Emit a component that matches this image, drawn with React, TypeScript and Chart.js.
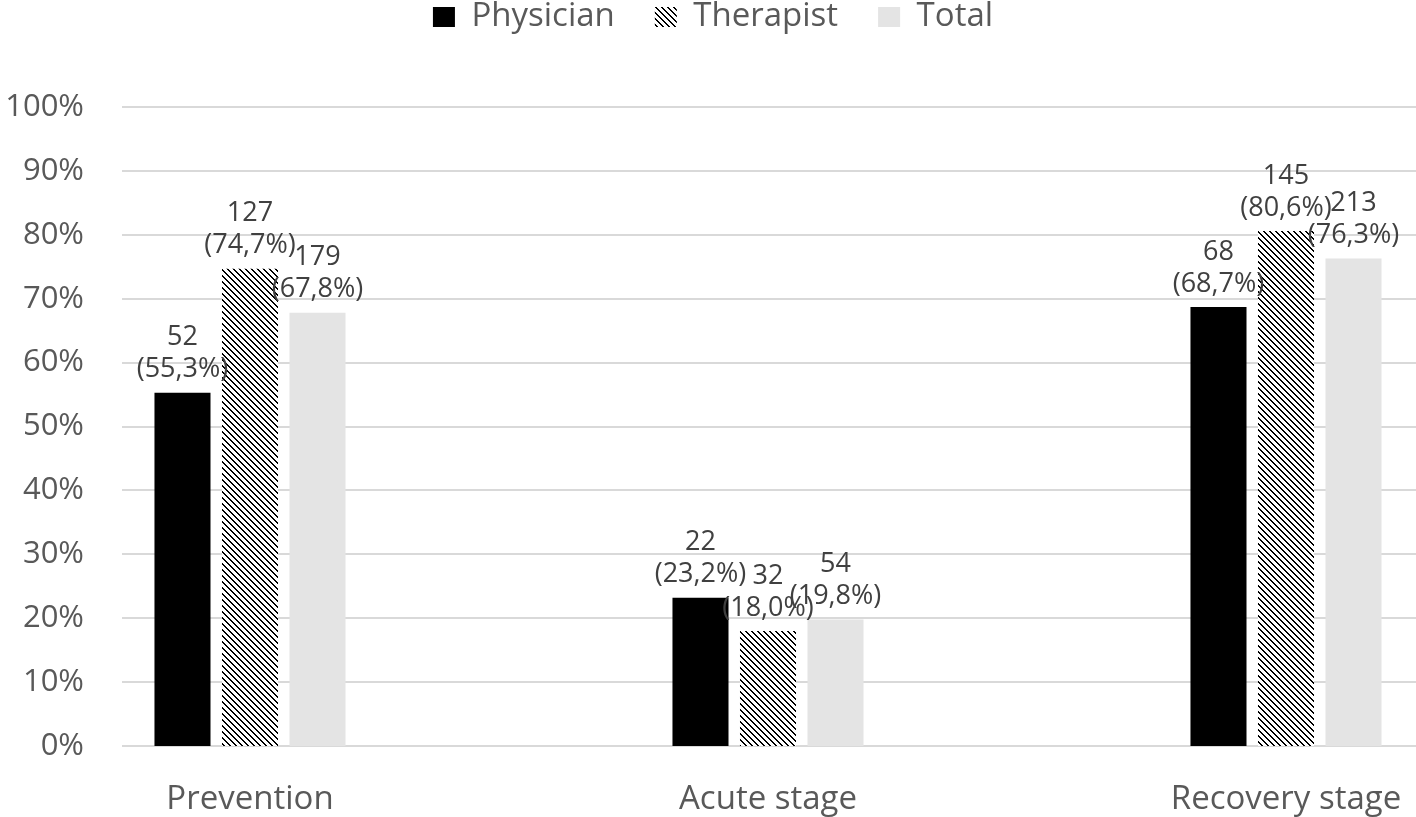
import React, { useEffect, useRef } from "react";
import { Chart, registerables } from "chart.js";

Chart.register(...registerables);

const categories = ["Prevention", "Acute stage", "Recovery stage"];
const seriesNames = ["Physician", "Therapist", "Total"];
const physicianPct = [55.3, 23.2, 68.7];
const therapistPct = [74.7, 18.0, 80.6];
const totalPct = [67.8, 19.8, 76.3];
const physicianN = [52, 22, 68];
const therapistN = [127, 32, 145];
const totalN = [179, 54, 213];
const yTicks = [0, 10, 20, 30, 40, 50, 60, 70, 80, 90, 100];

const FONT = "'Open Sans', 'Noto Sans', sans-serif";
const TEXT = "#595959";
const LABEL = "#404040";
const GRID = "#d9d9d9";
const LEGEND_SIZE = 33;
const LEGEND_PAD = 40;

function makeHatch(): CanvasPattern | string {
  const c = document.createElement("canvas");
  const s = 6;
  c.width = s;
  c.height = s;
  const g = c.getContext("2d");
  if (!g) return "#000";
  g.fillStyle = "#ffffff";
  g.fillRect(0, 0, s, s);
  g.fillStyle = "#000000";
  for (let y = 0; y < s; y++) {
    for (let x = 0; x < s; x++) {
      const d = (((x - y) % s) + s) % s;
      if (d === 0 || d === 1) g.fillRect(x, y, 1, 1);
    }
  }
  const p = g.createPattern(c, "repeat");
  return p || "#000";
}

const gridPlugin = {
  id: "gridFull",
  beforeDatasetsDraw(chart: any) {
    const { ctx, chartArea, scales, width } = chart;
    const y = scales.y;
    ctx.save();
    ctx.strokeStyle = GRID;
    ctx.lineWidth = 2;
    for (const v of yTicks) {
      const py = Math.round(y.getPixelForValue(v));
      ctx.beginPath();
      ctx.moveTo(chartArea.left - 128, py);
      ctx.lineTo(width, py);
      ctx.stroke();
    }
    ctx.restore();
  },
};

const labelPlugin = {
  id: "barLabels",
  afterDatasetsDraw(chart: any) {
    const { ctx } = chart;
    const counts = [physicianN, therapistN, totalN];
    ctx.save();
    ctx.font = `27px ${FONT}`;
    ctx.fillStyle = LABEL;
    ctx.textAlign = "center";
    ctx.textBaseline = "middle";
    chart.data.datasets.forEach((ds: any, di: number) => {
      const meta = chart.getDatasetMeta(di);
      meta.data.forEach((el: any, i: number) => {
        const pct = (ds.data[i] as number).toFixed(1).replace(".", ",");
        ctx.fillText(`(${pct}%)`, el.x, el.y - 23);
        ctx.fillText(String(counts[di][i]), el.x, el.y - 55);
      });
    });
    ctx.restore();
  },
};

const legendShift = {
  id: "legendShift",
  afterLayout(chart: any) {
    const l = chart.legend;
    if (!l) return;
    const target = 17 - LEGEND_PAD - LEGEND_SIZE / 2;
    const dy = l.top - target;
    l.top -= dy;
    l.bottom -= dy;
    l.left += 70;
    l.right += 70;
  },
};

export default function App() {
  const ref = useRef<HTMLCanvasElement | null>(null);
  useEffect(() => {
    if (!ref.current) return;
    const hatch = makeHatch();
    const chart = new Chart(ref.current, {
      type: "bar",
      data: {
        labels: categories,
        datasets: [
          { label: seriesNames[0], data: physicianPct, backgroundColor: "#000000" },
          { label: seriesNames[1], data: therapistPct, backgroundColor: hatch as any },
          { label: seriesNames[2], data: totalPct, backgroundColor: "#e4e4e4" },
        ],
      },
      options: {
        responsive: false,
        animation: false,
        layout: { padding: { top: 24, right: 130, left: 0, bottom: 0 } },
        datasets: {
          bar: {
            categoryPercentage: 0.391,
            barPercentage: 0.83,
            borderWidth: 0,
            clip: false as any,
          },
        },
        plugins: {
          legend: {
            position: "top",
            labels: {
              font: { family: FONT, size: LEGEND_SIZE },
              color: TEXT,
              boxWidth: 22,
              boxHeight: 20,
              padding: LEGEND_PAD,
            },
          },
          tooltip: { enabled: false },
        },
        scales: {
          x: {
            type: "category",
            offset: false,
            grid: { display: false, drawTicks: false },
            border: { display: false },
            ticks: {
              font: { family: FONT, size: 33 },
              color: TEXT,
              padding: 34,
              maxRotation: 0,
              autoSkip: false,
            },
            afterFit(scale: any) {
              scale.height = 71;
              scale.paddingLeft = 0;
              scale.paddingRight = 0;
            },
          },
          y: {
            min: 0,
            max: 100,
            grid: { display: false, drawTicks: false },
            border: { display: false },
            ticks: {
              stepSize: 10,
              font: { family: FONT, size: 31 },
              color: TEXT,
              padding: 166,
              callback: (v: any) => `${v}%`,
            },
            afterFit(scale: any) {
              scale.width = 250;
              scale.paddingTop = 0;
              scale.paddingBottom = 0;
            },
          },
        },
      },
      plugins: [gridPlugin, labelPlugin, legendShift],
    });
    return () => chart.destroy();
  }, []);
  return (
    <div style={{ position: "fixed", left: 0, top: 0, width: 1416, height: 817, background: "#fff" }}>
      <canvas ref={ref} width={1416} height={817} />
    </div>
  );
}
